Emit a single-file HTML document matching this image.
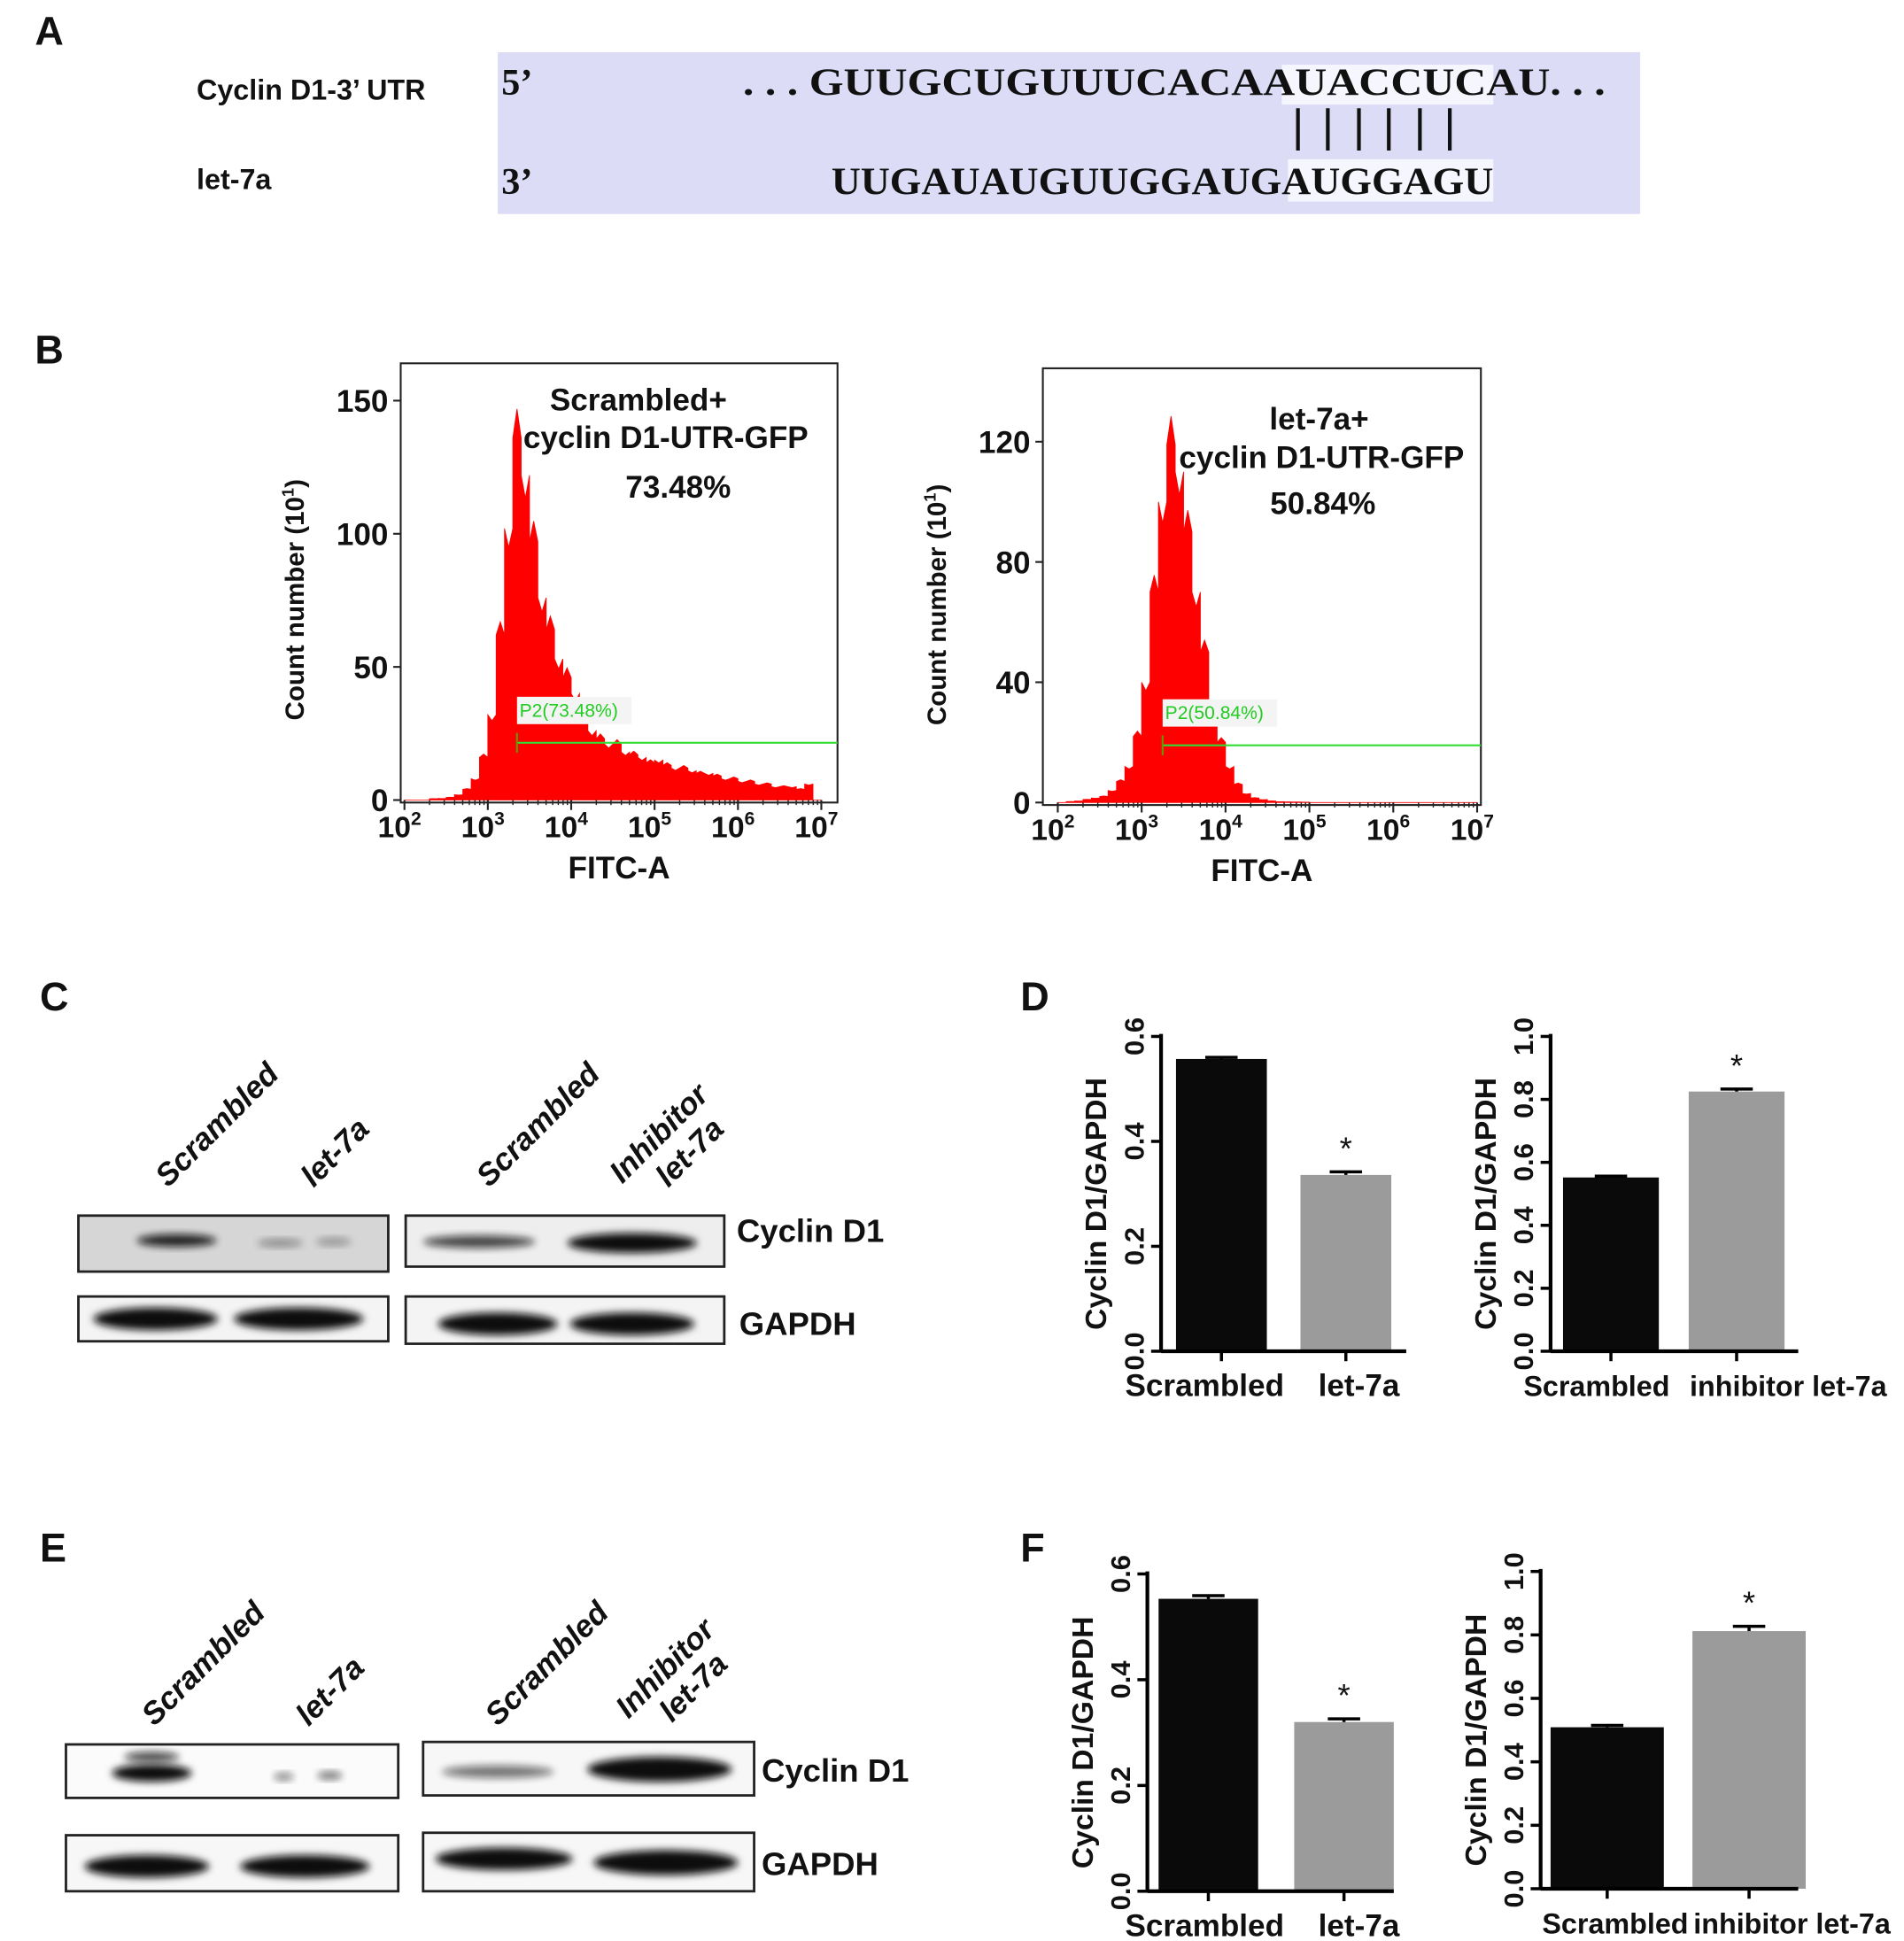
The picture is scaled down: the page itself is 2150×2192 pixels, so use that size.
<!DOCTYPE html>
<html><head><meta charset="utf-8"><style>
html,body{margin:0;padding:0;background:#fff}
svg{display:block}
text{font-family:"Liberation Sans",Arial,sans-serif;font-weight:bold;fill:#111}
.ser{font-family:"Liberation Serif","DejaVu Serif",serif;font-weight:bold}
</style></head><body>
<svg id="fig" width="2150" height="2192" viewBox="0 0 1530 1560" preserveAspectRatio="none" xmlns="http://www.w3.org/2000/svg">
<defs>
<filter id="blur" x="-20%" y="-50%" width="140%" height="200%"><feGaussianBlur stdDeviation="3"/></filter>
</defs>
<text x="28" y="36" font-size="32">A</text>
<text x="158" y="80" font-size="23">Cyclin D1-3’ UTR</text>
<text x="158" y="152" font-size="23">let-7a</text>
<rect x="400" y="42" width="918" height="130" fill="#dcdcf6"/>
<rect x="1030" y="52" width="170" height="32" fill="#f6f6ff"/>
<rect x="1035" y="128" width="165" height="34" fill="#f6f6ff"/>
<text class="ser" x="403" y="76" font-size="30">5’</text>
<text class="ser" x="597" y="76" font-size="31" textLength="693" lengthAdjust="spacingAndGlyphs">. . . GUUGCUGUUUCACAAUACCUCAU. . .</text>
<g stroke="#111" stroke-width="3">
<line x1="1043" y1="87" x2="1043" y2="121"/><line x1="1067" y1="87" x2="1067" y2="121"/><line x1="1092" y1="87" x2="1092" y2="121"/><line x1="1116" y1="87" x2="1116" y2="121"/><line x1="1141" y1="87" x2="1141" y2="121"/><line x1="1165" y1="87" x2="1165" y2="121"/>
</g>
<text class="ser" x="403" y="156" font-size="30">3’</text>
<text class="ser" x="668" y="156" font-size="31" textLength="532" lengthAdjust="spacingAndGlyphs">UUGAUAUGUUGGAUGAUGGAGU</text>

<text x="28" y="292" font-size="32">B</text>
<g id="histos"></g>

<text x="32" y="812" font-size="32">C</text>
<text x="820" y="812" font-size="32">D</text>
<text x="32" y="1255" font-size="32">E</text>
<text x="820" y="1255" font-size="32">F</text>
<g id="blots"></g>
<g id="bars"></g>
</svg>
<script>
const NS='http://www.w3.org/2000/svg';
function mk(tag,attrs,parent,txt){const e=document.createElementNS(NS,tag);for(const k in attrs)e.setAttribute(k,attrs[k]);if(txt!==undefined)e.textContent=txt;parent.appendChild(e);return e;}

const histScrambled=[0,0,0,0.5,0.6,1,2,4,8,16,32,62,102,136,122,97,76,64,53,46,40,31,26,23,21,21,18,17,16,14,15,13,12,12,11,10,10,9,8,8,7,7,6,6,5,5,5,4,6,0];
const histLet7a=[0,0.3,0.5,1,1.5,2,4,7,12,22,40,70,100,119,110,90,70,50,32,20,12,6,3,1.5,1,0.5,0.3,0.2,0.2,0.1,0,0,0,0,0,0,0,0,0,0,0,0,0,0,0,0,0,0,0,0];
const yTicks1=[0,50,100,150];
const yTicks2=[0,40,80,120];
const xDecades=[2,3,4,5,6,7];
const gateLabels=['P2(73.48%)','P2(50.84%)'];
const histTitles=[['Scrambled+','cyclin D1-UTR-GFP','73.48%'],['let-7a+','cyclin D1-UTR-GFP','50.84%']];

function histogram(cfg){
  const g=mk('g',{},document.getElementById('histos'));
  
  
  const X=d=>cfg.x0+(d-2)/5*(cfg.x1-cfg.x0);
  const Y=v=>cfg.yb-v*cfg.sy;
  const box=mk('rect',{x:cfg.bx,y:cfg.by,width:cfg.bw,height:cfg.yb-cfg.by+2,fill:'none',stroke:'#222','stroke-width':1.5},g);
  
  let d='M'+X(2)+','+Y(0);
  cfg.data.forEach((v,i)=>{const a=X(2+i*0.1),b=X(2+(i+1)*0.1);
    d+=' L'+a+','+Y(v)+' L'+((a+b)/2)+','+Y(v*(i%2?1.08:0.93))+' L'+b+','+Y(v);});
  d+=' L'+X(7)+','+Y(0)+'Z';
  const p=mk('path',{d:d,fill:'#ff0000',stroke:'#ff0000','stroke-width':0.6},g);
  
  cfg.yt.forEach(t=>{mk('line',{x1:cfg.bx-6,x2:cfg.bx,y1:Y(t),y2:Y(t),stroke:'#222','stroke-width':1.5},g);
    const l=mk('text',{x:cfg.bx-10,y:Y(t)+9,'font-size':25,'text-anchor':'end'},g,String(t));
    });
  xDecades.forEach(k=>{mk('line',{x1:X(k),x2:X(k),y1:cfg.yb,y2:cfg.yb+8,stroke:'#222','stroke-width':1.5},g);
    for(let m=2;m<10&&k<7;m++){const xx=X(k+Math.log10(m));mk('line',{x1:xx,x2:xx,y1:cfg.yb,y2:cfg.yb+4,stroke:'#222','stroke-width':1},g);}
    const l=mk('text',{x:X(k)-4,y:cfg.yb+30,'font-size':24,'text-anchor':'middle'},g);
    
    mk('tspan',{},l,'10');mk('tspan',{dy:-10,'font-size':15},l,String(k));});
  const xt=mk('text',{x:(cfg.bx+cfg.bx+cfg.bw)/2,y:cfg.yb+63,'font-size':25,'text-anchor':'middle'},g,'FITC-A');
  
  const yt=mk('text',{x:0,y:0,'font-size':21,'text-anchor':'middle',transform:'translate('+(cfg.bx-78)+','+(cfg.by+190)+') rotate(-90)'},g);
  
  mk('tspan',{},yt,'Count number (10');mk('tspan',{dy:-8,'font-size':13},yt,'1');mk('tspan',{dy:8},yt,')');
  const gy=cfg.gy, gx=X(cfg.gd);
  const gl=mk('line',{x1:gx,x2:cfg.bx+cfg.bw,y1:gy,y2:gy,stroke:'#33dd33','stroke-width':1.5},g);
  
  mk('line',{x1:gx,x2:gx,y1:gy-8,y2:gy+8,stroke:'#669900','stroke-width':1.5},g);
  mk('rect',{x:gx,y:gy-37,width:92,height:22,fill:'#f4f4f4'},g);
  const gt=mk('text',{x:gx+2,y:gy-21,'font-size':15,style:'font-weight:normal;fill:#22cc22'},g,cfg.gate);
  
  cfg.title.forEach((s,i)=>{const t=mk('text',{x:cfg.tx[i],y:cfg.ty[i],'font-size':25,'text-anchor':'middle'},g,s);
    });
}
histogram({name:'histogram-scrambled',data:histScrambled,x0:325,x1:660,yb:643,sy:(643-322)/150,bx:322,by:292,bw:351,yt:yTicks1,gy:597,gd:3.35,gate:gateLabels[0],title:histTitles[0],tx:[513,535,545],ty:[330,360,400]});
histogram({name:'histogram-let7a',data:histLet7a,x0:850,x1:1187,yb:645,sy:(645-355)/120,bx:838,by:296,bw:352,yt:yTicks2,gy:599,gd:3.25,gate:gateLabels[1],title:histTitles[1],tx:[1060,1062,1063],ty:[345,376,413]});

const blotG=document.getElementById('blots');
function blotBox(name,x,y,w,h,bg,bands){
  const g=mk('g',{},blotG);
  
  
  mk('rect',{x:x,y:y,width:w,height:h,fill:bg,stroke:'#222','stroke-width':2},g);
  bands.forEach(b=>{mk('ellipse',{cx:b[0],cy:b[1],rx:b[2],ry:b[3],fill:'#111',opacity:b[4],filter:'url(#blur)'},g);});
}
function label(name,x,y,s,size,rot,italic){const t=mk('text',{x:x,y:y,'font-size':size||25},blotG,s);
  if(rot)t.setAttribute('transform','rotate('+rot+' '+x+' '+y+')');
  if(italic)t.setAttribute('font-style','italic');
  }
blotBox('blot-c-cyclin-left',63,977,249,45,'#d6d6d6',[[142,997,32,5,0.9],[225,999,18,3,0.4],[268,998,14,3,0.35]]);
blotBox('blot-c-cyclin-right',326,977,256,41,'#eeeeee',[[385,998,45,5,0.75],[508,999,52,8,1]]);
blotBox('blot-c-gapdh-left',63,1042,249,36,'#f4f4f4',[[125,1060,50,9,1],[240,1060,52,9,1]]);
blotBox('blot-c-gapdh-right',326,1042,256,38,'#f4f4f4',[[400,1064,48,9,1],[508,1064,50,9,1]]);
label('cyclin-d1-label-c',592,998,'Cyclin D1',26);
label('gapdh-label-c',594,1073,'GAPDH',26);
label('lane-scrambled-c1',135,955,'Scrambled',25,-45,true);
label('lane-let7a-c1',252,955,'let-7a',25,-45,true);
label('lane-scrambled-c2',393,955,'Scrambled',25,-45,true);
label('lane-inhibitor-c2',500,952,'Inhibitor',25,-45,true);
label('lane-let7a-c2',537,955,'let-7a',25,-45,true);
blotBox('blot-e-cyclin-left',53,1402,267,43,'#fbfbfb',[[122,1425,32,7,1],[122,1412,22,4,0.75],[228,1428,8,3,0.5],[265,1427,10,3,0.6]]);
blotBox('blot-e-cyclin-right',340,1400,266,43,'#f7f7f7',[[400,1424,45,5,0.55],[530,1422,58,10,1]]);
blotBox('blot-e-gapdh-left',53,1475,267,45,'#f7f7f7',[[118,1500,50,9,1],[245,1500,52,9,1]]);
blotBox('blot-e-gapdh-right',340,1473,266,47,'#f7f7f7',[[405,1494,55,9,1],[535,1497,58,10,1]]);
label('cyclin-d1-label-e',612,1432,'Cyclin D1',26);
label('gapdh-label-e',612,1507,'GAPDH',26);
label('lane-scrambled-e1',124,1388,'Scrambled',25,-45,true);
label('lane-let7a-e1',248,1388,'let-7a',25,-45,true);
label('lane-scrambled-e2',400,1388,'Scrambled',25,-45,true);
label('lane-inhibitor-e2',505,1382,'Inhibitor',25,-45,true);
label('lane-let7a-e2',540,1385,'let-7a',25,-45,true);

const barCatsA=['Scrambled','let-7a'];
const barCatsB=['Scrambled','inhibitor let-7a'];
const dValuesA=[0.557,0.336];
const dErrA=[0.003,0.006];
const dValuesB=[0.552,0.825];
const dErrB=[0.004,0.008];
const fValuesA=[0.553,0.320];
const fErrA=[0.006,0.006];
const fValuesB=[0.509,0.812];
const fErrB=[0.006,0.015];
const ticksA=['0.0','0.2','0.4','0.6'];
const ticksB=['0.0','0.2','0.4','0.6','0.8','1.0'];
const barColors=['#0a0a0a','#9b9b9b'];
function barChart(cfg){
  const g=mk('g',{},document.getElementById('bars'));
  
  
  const Y=v=>cfg.y0-v/cfg.max*(cfg.y0-cfg.yTop);
  cfg.vals.forEach((v,i)=>{
    const b=mk('rect',{x:cfg.bx[i],y:Y(v),width:cfg.bw,height:cfg.y0-Y(v),fill:barColors[i]},g);
    
    
    const cx=cfg.bx[i]+cfg.bw/2;
    mk('line',{x1:cx-13,x2:cx+13,y1:Y(v+cfg.err[i]),y2:Y(v+cfg.err[i]),stroke:'#000','stroke-width':2.5},g);
    mk('line',{x1:cx,x2:cx,y1:Y(v+cfg.err[i]),y2:Y(v),stroke:'#000','stroke-width':2.5},g);
    mk('line',{x1:cx,x2:cx,y1:cfg.y0,y2:cfg.y0+8,stroke:'#000','stroke-width':2.5},g);
    if(i===1){const s=mk('text',{x:cx,y:Y(v+cfg.err[i])-10,'font-size':26,'text-anchor':'middle',style:'font-weight:normal'},g,'*');
      }
  });
  mk('line',{x1:cfg.ax,x2:cfg.ax,y1:cfg.yTop-2,y2:cfg.y0+1,stroke:'#000','stroke-width':3},g);
  mk('line',{x1:cfg.ax,x2:cfg.xEnd,y1:cfg.y0,y2:cfg.y0,stroke:'#000','stroke-width':3},g);
  cfg.ticks.forEach(t=>{const y=Y(parseFloat(t));
    mk('line',{x1:cfg.ax-8,x2:cfg.ax,y1:y,y2:y,stroke:'#000','stroke-width':2.5},g);
    const l=mk('text',{x:0,y:0,'font-size':22,'text-anchor':'middle',transform:'translate('+(cfg.ax-14)+','+y+') rotate(-90)'},g,t);
    });
  const yt=mk('text',{x:0,y:0,'font-size':24,'text-anchor':'middle',transform:'translate('+(cfg.ax-44)+','+((cfg.y0+cfg.yTop)/2+8)+') rotate(-90)'},g,'Cyclin D1/GAPDH');
  
  cfg.cats.forEach((c,i)=>{const l=mk('text',{x:cfg.lx[i],y:cfg.y0+36,'font-size':cfg.fs,'text-anchor':'middle'},g,c);
    });
}
barChart({name:'chart-d-let7a',vals:dValuesA,err:dErrA,cats:barCatsA,ticks:ticksA,max:0.6,y0:1086,yTop:833,ax:933,xEnd:1130,bx:[945,1045],bw:73,lx:[968,1092],fs:25});
barChart({name:'chart-d-inhibitor',vals:dValuesB,err:dErrB,cats:barCatsB,ticks:ticksB,max:1.0,y0:1086,yTop:833,ax:1246,xEnd:1445,bx:[1256,1357],bw:77,lx:[1283,1437],fs:23});
barChart({name:'chart-f-let7a',vals:fValuesA,err:fErrA,cats:barCatsA,ticks:ticksA,max:0.6,y0:1520,yTop:1265,ax:922,xEnd:1120,bx:[931,1040],bw:80,lx:[968,1092],fs:25});
barChart({name:'chart-f-inhibitor',vals:fValuesB,err:fErrB,cats:barCatsB,ticks:ticksB,max:1.0,y0:1518,yTop:1263,ax:1238,xEnd:1445,bx:[1246,1360],bw:91,lx:[1298,1440],fs:23});
</script>
</body></html>
